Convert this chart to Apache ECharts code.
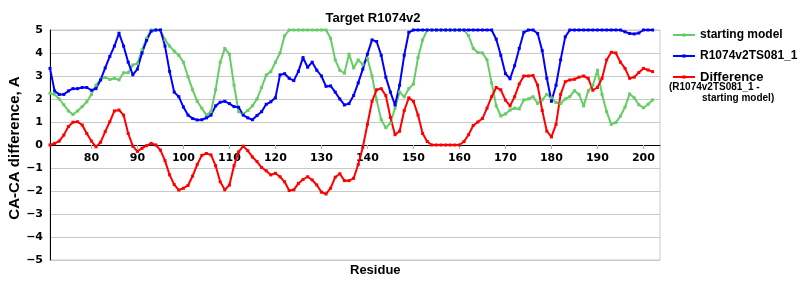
<!DOCTYPE html>
<html>
<head>
<meta charset="utf-8">
<script src="https://cdn.jsdelivr.net/npm/echarts@6/dist/echarts.min.js"></script>
<style>html,body{margin:0;padding:0;background:#fff}#c{width:800px;height:300px}</style>
</head>
<body>
<div id="c"></div>
<script>
const firstResidue = 71;
const xTickLabels = [80, 90, 100, 110, 120, 130, 140, 150, 160, 170, 180, 190, 200];
const yTickLabels = [-5, -4, -3, -2, -1, 0, 1, 2, 3, 4, 5];
const seriesNames = ['starting model', 'R1074v2TS081_1', 'Difference'];
const yAxisTitle = 'CA-CA difference, A';
const xAxisTitle = 'Residue';

const startingModel = [
  2.25, 2.2, 2.0, 1.75, 1.48, 1.33, 1.48, 1.67, 1.88, 2.2,
  2.6, 2.85, 2.94, 2.85, 2.9, 2.83, 3.14, 3.14, 3.48, 3.55,
  4.13, 4.64, 5, 5, 5, 4.57, 4.3, 4.08, 3.9, 3.6,
  2.97, 2.4, 1.9, 1.6, 1.3, 1.45, 2.4, 3.6, 4.2, 3.95,
  2.6, 1.45, 1.35, 1.5, 1.7, 2.0, 2.5, 3.04, 3.19, 3.6,
  4.0, 4.75, 5, 5, 5, 5, 5, 5, 5, 5,
  5, 4.64, 3.7, 3.25, 3.12, 3.95, 3.35, 3.7, 3.5, 3.77,
  3.0, 1.96, 1.1, 0.75, 0.95, 1.6, 2.3, 2.1, 2.45, 2.65,
  3.8, 4.57, 5, 5, 5, 5, 5, 5, 5, 5,
  5, 4.75, 4.2, 4.02, 4.0, 3.7, 2.7, 1.7, 1.26, 1.35,
  1.52, 1.6, 1.57, 1.96, 2.0, 2.1, 1.81, 1.96, 2.2, 2.05,
  1.85, 1.8, 2.0, 2.1, 2.36, 2.2, 1.7, 2.35, 2.6, 3.25,
  2.2, 1.45, 0.9, 0.98, 1.25, 1.65, 2.22, 2.05, 1.75, 1.62,
  1.77, 1.96
];
const model = [
  3.33, 2.35, 2.2, 2.2, 2.35, 2.45, 2.45, 2.5, 2.5, 2.38,
  2.45, 2.83, 3.35, 3.85, 4.3, 4.86, 4.3, 3.6, 3.05, 3.3,
  4.0, 4.55, 4.95, 5, 5, 4.3, 3.2, 2.3, 2.1, 1.65,
  1.3, 1.15, 1.09, 1.1, 1.18, 1.3, 1.7, 1.86, 1.9, 1.8,
  1.67, 1.64, 1.3, 1.18, 1.1, 1.28, 1.45, 1.77, 1.88, 2.05,
  3.05, 3.1, 2.9, 2.8, 3.2, 3.8, 3.38, 3.6, 3.25, 3.0,
  2.55, 2.57, 2.3, 2.0, 1.74, 1.8, 2.15, 2.7, 3.3, 3.95,
  4.57, 4.5, 3.9, 2.95, 2.3, 1.74, 2.6, 3.9, 4.9, 5,
  5, 5, 5, 5, 5, 5, 5, 5, 5, 5,
  5, 5, 5, 5, 5, 5, 5, 4.6, 3.9, 3.1,
  2.88, 3.45, 4.2, 4.9, 5, 5, 4.85, 4.1, 2.9, 1.9,
  2.6, 3.7, 4.7, 5, 5, 5, 5, 5, 5, 5,
  5, 5, 5, 5, 5, 4.92, 4.85, 4.83, 4.87, 5,
  5, 5
];
const difference = [
  0.0, 0.07, 0.17, 0.43, 0.8, 0.99, 1.01, 0.87, 0.5, 0.17,
  -0.08, 0.12, 0.58, 1.01, 1.48, 1.52, 1.3, 0.5, -0.05, -0.28,
  -0.14, -0.03, 0.07, 0.0, -0.22, -0.68, -1.3, -1.72, -1.96, -1.88,
  -1.76, -1.35, -0.85, -0.45, -0.37, -0.43, -0.9, -1.6, -1.95, -1.74,
  -0.9, -0.3, -0.05, -0.25, -0.52, -0.72, -0.98, -1.12, -1.3, -1.23,
  -1.38, -1.6, -1.98, -1.95, -1.67, -1.5, -1.38, -1.52, -1.74, -2.05,
  -2.13, -1.88, -1.4, -1.25, -1.55, -1.55, -1.45, -0.85, -0.1, 0.9,
  1.9, 2.4, 2.45, 2.15, 1.2, 0.45, 0.6, 1.5, 2.05, 1.9,
  1.3, 0.5, 0.15, 0, 0, 0, 0, 0, 0, 0,
  0.15, 0.45, 0.85, 1.0, 1.15, 1.6, 2.1, 2.5, 2.4, 1.95,
  1.7, 2.1, 2.65, 3.0, 3.0, 3.02, 2.6, 1.5, 0.6, 0.35,
  0.9, 2.2, 2.75, 2.83, 2.86, 2.95, 3.0, 2.9, 2.38, 2.5,
  2.9, 3.7, 4.03, 4.0, 3.6, 3.33, 2.9, 2.95, 3.15, 3.33,
  3.26, 3.19
];

const residues = startingModel.map((_, i) => firstResidue + i);
const pairs = arr => arr.map((v, i) => [residues[i], v]);
const colors = ['#66cc66', '#0000ff', '#ff0000'];
const fmtNum = v => (v < 0 ? '\u2212' + Math.abs(v) : String(v));

const chart = echarts.init(document.getElementById('c'), null, {renderer: 'canvas'});
const mk = (name, data, color) => ({
  name, type: 'line', data: pairs(data),
  lineStyle: {color, width: 2},
  itemStyle: {color},
  symbol: 'rect', symbolSize: 3, showSymbol: true,
  animation: false, z: 3
});

chart.setOption({
  animation: false,
  title: {
    text: 'Target R1074v2', left: 368, top: 7, textAlign: 'center',
    textStyle: {fontFamily: 'Liberation Sans', fontWeight: 'bold', fontSize: 13, color: '#000'}
  },
  grid: {left: 50, right: 140, top: 30, bottom: 40, show: true, borderColor: '#c8c8c8', borderWidth: 1,
         containLabel: false, outerBoundsMode: 'none'},
  legend: {
    orient: 'vertical', left: 667, top: 23, itemGap: 7, itemWidth: 22, itemHeight: 4,
    data: seriesNames,
    formatter: n => n === 'Difference' ? '{big|' + n + '}' : n,
    textStyle: {
      fontFamily: 'Liberation Sans', fontWeight: 'bold', fontSize: 12, color: '#000', lineHeight: 14,
      rich: {big: {fontFamily: 'Liberation Sans', fontWeight: 'bold', fontSize: 13, lineHeight: 14}}
    }
  },
  graphic: [
    {type: 'text', left: 669, top: 82, style: {text: '(R1074v2TS081_1 -', font: 'bold 10px "Liberation Sans"', fill: '#000'}},
    {type: 'text', left: 702, top: 93, style: {text: 'starting model)', font: 'bold 10px "Liberation Sans"', fill: '#000'}},
    {type: 'text', left: 350, top: 264, style: {text: xAxisTitle, font: 'bold 13px "Liberation Sans"', fill: '#000'}},
    {type: 'text', x: 15, y: 148, rotation: Math.PI / 2,
     style: {text: yAxisTitle, font: 'bold 15px "Liberation Sans"', fill: '#000', align: 'center', verticalAlign: 'middle'}}
  ],
  xAxis: {
    type: 'value', min: firstResidue, max: 203.6, offset: -115,
    axisLine: {onZero: false, lineStyle: {color: '#000', width: 1}},
    axisTick: {show: true, customValues: xTickLabels, length: 4, lineStyle: {color: '#b0b0b0'}},
    axisLabel: {customValues: xTickLabels, margin: 8, fontFamily: 'DejaVu Sans', fontWeight: 'bold', fontSize: 11, color: '#000'},
    splitLine: {show: false}
  },
  yAxis: {
    type: 'value', min: yTickLabels[0], max: yTickLabels[yTickLabels.length - 1], interval: 1,
    axisLine: {show: true, lineStyle: {color: '#000', width: 1}},
    axisTick: {show: false},
    axisLabel: {formatter: fmtNum, margin: 7, fontFamily: 'DejaVu Sans', fontWeight: 'bold', fontSize: 11, color: '#000'},
    splitLine: {show: true, lineStyle: {color: '#c8c8c8', width: 1}}
  },
  series: [
    mk(seriesNames[0], startingModel, colors[0]),
    mk(seriesNames[1], model, colors[1]),
    mk(seriesNames[2], difference, colors[2])
  ]
});
</script>
</body>
</html>
